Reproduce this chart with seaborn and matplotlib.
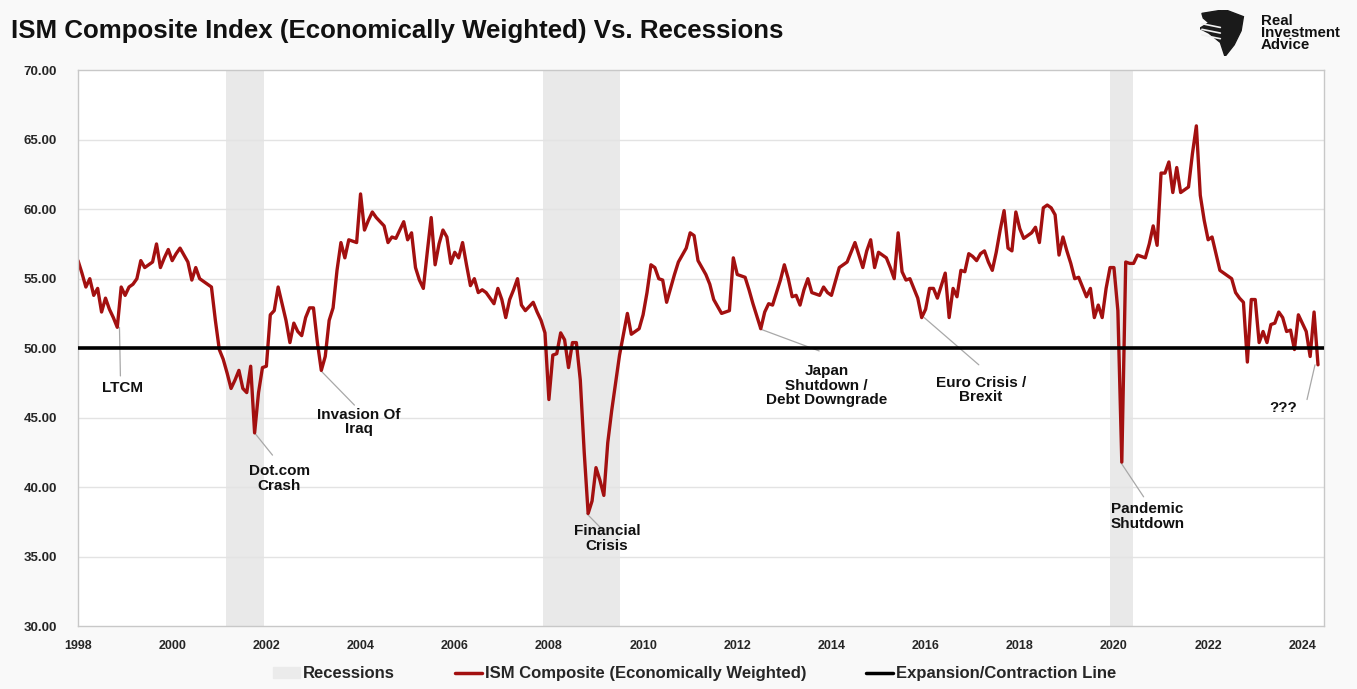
import numpy as np
import pandas as pd
import matplotlib
matplotlib.use("Agg")
import matplotlib.pyplot as plt
from matplotlib.patches import Polygon
import seaborn as sns

# Monthly ISM composite readings, January 1998 onward
ism_1998 = [56.3, 55.4, 54.4, 55.0, 53.8, 54.3, 52.6, 53.6, 52.8, 52.2, 51.5, 54.4]
ism_1999 = [53.8, 54.4, 54.6, 55.0, 56.3, 55.8, 56.0, 56.2, 57.5, 55.8, 56.5, 57.1]
ism_2000 = [56.3, 56.8, 57.2, 56.7, 56.2, 54.9, 55.8, 55.0, 54.8, 54.6, 54.4, 52.0]
ism_2001 = [49.9, 49.2, 48.2, 47.1, 47.7, 48.4, 47.1, 46.8, 48.7, 43.9, 46.8, 48.6]
ism_2002 = [48.7, 52.4, 52.7, 54.4, 53.2, 52.0, 50.4, 51.8, 51.2, 50.9, 52.2, 52.9]
ism_2003 = [52.9, 50.4, 48.4, 49.4, 52.0, 52.9, 55.6, 57.6, 56.5, 57.8, 57.7, 57.6]
ism_2004 = [61.1, 58.5, 59.2, 59.8, 59.4, 59.1, 58.8, 57.6, 58.0, 57.9, 58.5, 59.1]
ism_2005 = [57.8, 58.3, 55.8, 54.9, 54.3, 56.9, 59.4, 56.0, 57.5, 58.5, 58.0, 56.1]
ism_2006 = [56.9, 56.5, 57.6, 56.0, 54.5, 55.0, 54.0, 54.2, 54.0, 53.6, 53.2, 54.3]
ism_2007 = [53.5, 52.2, 53.5, 54.2, 55.0, 53.1, 52.7, 53.0, 53.3, 52.6, 52.0, 51.1]
ism_2008 = [46.3, 49.5, 49.6, 51.1, 50.6, 48.6, 50.4, 50.4, 47.7, 42.5, 38.1, 39.0]
ism_2009 = [41.4, 40.5, 39.4, 43.2, 45.5, 47.5, 49.5, 51.0, 52.5, 51.0, 51.2, 51.4]
ism_2010 = [52.4, 54.0, 56.0, 55.8, 55.0, 54.9, 53.3, 54.3, 55.3, 56.2, 56.7, 57.2]
ism_2011 = [58.3, 58.1, 56.3, 55.8, 55.3, 54.6, 53.5, 53.0, 52.5, 52.6, 52.7, 56.5]
ism_2012 = [55.3, 55.2, 55.1, 54.2, 53.2, 52.3, 51.4, 52.6, 53.2, 53.1, 54.0, 54.9]
ism_2013 = [56.0, 55.0, 53.7, 53.8, 53.1, 54.2, 55.0, 54.0, 53.9, 53.8, 54.4, 54.0]
ism_2014 = [53.8, 54.8, 55.8, 56.0, 56.2, 56.9, 57.6, 56.7, 55.8, 57.0, 57.8, 55.8]
ism_2015 = [56.9, 56.7, 56.5, 55.8, 55.0, 58.3, 55.5, 54.9, 55.0, 54.3, 53.6, 52.2]
ism_2016 = [52.8, 54.3, 54.3, 53.6, 54.5, 55.4, 52.2, 54.3, 53.7, 55.6, 55.5, 56.8]
ism_2017 = [56.6, 56.3, 56.8, 57.0, 56.2, 55.6, 56.9, 58.5, 59.9, 57.2, 57.0, 59.8]
ism_2018 = [58.6, 57.9, 58.1, 58.3, 58.7, 57.6, 60.1, 60.3, 60.1, 59.6, 56.7, 58.0]
ism_2019 = [57.0, 56.1, 55.0, 55.1, 54.4, 53.7, 54.3, 52.2, 53.1, 52.2, 54.3, 55.8]
ism_2020 = [55.8, 52.7, 41.8, 56.2, 56.1, 56.1, 56.7, 56.6, 56.5, 57.5, 58.8, 57.4]
ism_2021 = [62.6, 62.6, 63.4, 61.2, 63.0, 61.2, 61.4, 61.6, 64.0, 66.0, 61.0, 59.2]
ism_2022 = [57.8, 58.0, 56.8, 55.6, 55.4, 55.2, 55.0, 54.0, 53.6, 53.3, 49.0, 53.5]
ism_2023 = [53.5, 50.4, 51.2, 50.4, 51.7, 51.8, 52.6, 52.2, 51.2, 51.3, 49.9, 52.4]
ism_2024 = [51.8, 51.2, 49.4, 52.6, 48.8]

# Recession periods (decimal years) and the expansion/contraction threshold
recession_start = [2001.14, 2007.87, 2019.91]
recession_end = [2001.95, 2009.50, 2020.40]
threshold = 50.0

y_ticks = [30, 35, 40, 45, 50, 55, 60, 65, 70]
x_ticks = list(range(1998, 2025, 2))

# Event callouts: text, text position, point on the series
event_text = ["LTCM", "Dot.com\nCrash", "Invasion Of\nIraq", "Financial\nCrisis",
              "Japan\nShutdown /\nDebt Downgrade", "Euro Crisis /\nBrexit",
              "Pandemic\nShutdown", "???"]
event_text_x = [1998.95, 2002.28, 2003.97, 2009.23, 2013.90, 2017.17, 2020.71, 2023.60]
event_text_y = [47.1, 40.6, 44.7, 36.3, 47.3, 47.0, 37.9, 45.7]
event_point_x = [1998.88, 2001.75, 2003.15, 2008.80, 2012.47, 2015.97, 2020.14, 2024.27]
event_point_y = [51.5, 43.9, 48.4, 38.1, 51.4, 52.2, 41.8, 48.8]
event_leader_x = [1998.90, 2002.13, 2003.87, 2009.12, 2013.74, 2017.13, 2020.63, 2024.10]
event_leader_y = [48.0, 42.3, 45.9, 37.0, 49.8, 48.8, 39.3, 46.3]

values = (ism_1998 + ism_1999 + ism_2000 + ism_2001 + ism_2002 + ism_2003 + ism_2004
          + ism_2005 + ism_2006 + ism_2007 + ism_2008 + ism_2009 + ism_2010 + ism_2011
          + ism_2012 + ism_2013 + ism_2014 + ism_2015 + ism_2016 + ism_2017 + ism_2018
          + ism_2019 + ism_2020 + ism_2021 + ism_2022 + ism_2023 + ism_2024)
df = pd.DataFrame({"year": 1998 + np.arange(len(values)) / 12.0, "ism": values})

sns.set_theme(style="white")
plt.rcParams["font.family"] = ["Liberation Sans", "DejaVu Sans"]
narrow = ["Liberation Sans Narrow", "Liberation Sans", "DejaVu Sans"]

fig = plt.figure(figsize=(13.57, 6.89), dpi=100, facecolor="#f9f9f9")
ax = fig.add_axes([0.0575, 0.0914, 0.9185, 0.8066])
ax.set_facecolor("white")

RED = "#a31010"
for s, e in zip(recession_start, recession_end):
    ax.axvspan(s, e, color="#e9e9e9", lw=0, zorder=0.5)

for t in y_ticks[1:-1]:
    ax.axhline(t, color="#e3e3e3", lw=1.0, zorder=0.6)

ax.axhline(threshold, color="black", lw=2.6, zorder=3)
sns.lineplot(data=df, x="year", y="ism", ax=ax, color=RED, lw=2.4,
             zorder=2, legend=False)

for txt, tx, ty, px, py, lx, ly in zip(event_text, event_text_x, event_text_y,
                                        event_point_x, event_point_y,
                                        event_leader_x, event_leader_y):
    ax.plot([px, lx], [py, ly], color="#a8a8a8", lw=0.9, zorder=1.5)
    ax.text(tx, ty, txt, ha="center", va="center", fontsize=11,
            fontweight="bold", color="#111111", linespacing=1.05, zorder=4)

ax.set_xlim(1998, 2024.47)
ax.set_ylim(30, 70)
ax.set_yticks(y_ticks)
ax.set_yticklabels([f"{v:.2f}" for v in y_ticks], family=narrow,
                   fontweight="bold", fontsize=9.5)
ax.set_xticks(x_ticks)
ax.set_xticklabels([str(v) for v in x_ticks], family=narrow,
                   fontweight="bold", fontsize=9)
ax.tick_params(axis="y", length=0, pad=15)
ax.tick_params(axis="x", length=0, pad=10)
ax.set_xlabel("")
ax.set_ylabel("")
for sp in ax.spines.values():
    sp.set_color("#c8c8c8")
    sp.set_linewidth(1.0)

fig.text(0.008, 0.955, "ISM Composite Index (Economically Weighted) Vs. Recessions",
         fontsize=18.6, fontweight="bold", color="#111111", va="center")

# Legend row
handles = [
    plt.Rectangle((0, 0), 1, 1, color="#ebebeb"),
    plt.Line2D([0], [0], color=RED, lw=2.5),
    plt.Line2D([0], [0], color="black", lw=2.5),
]
labels = ["Recessions", "ISM Composite (Economically Weighted)",
          "Expansion/Contraction Line"]
fig.legend(handles, labels, loc="center", bbox_to_anchor=(0.512, 0.022), ncol=3,
           frameon=False, handlelength=1.6, handletextpad=0.2, columnspacing=3.6,
           prop={"family": narrow, "weight": "bold", "size": 12})

# Brand mark
logo = fig.add_axes([0.884, 0.918, 0.034, 0.068])
logo.set_xlim(0, 1)
logo.set_ylim(0, 1)
logo.axis("off")
logo.add_patch(Polygon([(0.05, 0.92), (0.55, 1.0), (0.95, 0.85), (0.9, 0.55),
                        (0.75, 0.25), (0.55, 0.0), (0.45, 0.3), (0.2, 0.5),
                        (0.0, 0.6), (0.2, 0.72), (0.08, 0.82)],
                       closed=True, color="#1a1a1a"))
for yy in (0.62, 0.5, 0.38):
    logo.plot([0.05, 0.45], [yy + 0.08, yy], color="#f0f0f0", lw=1.2)
fig.text(0.929, 0.952, "Real\nInvestment\nAdvice", fontsize=10.8, fontweight="bold",
         color="#111111", va="center", ha="left", linespacing=0.82)

fig.savefig("out.png", dpi=100, facecolor=fig.get_facecolor())
